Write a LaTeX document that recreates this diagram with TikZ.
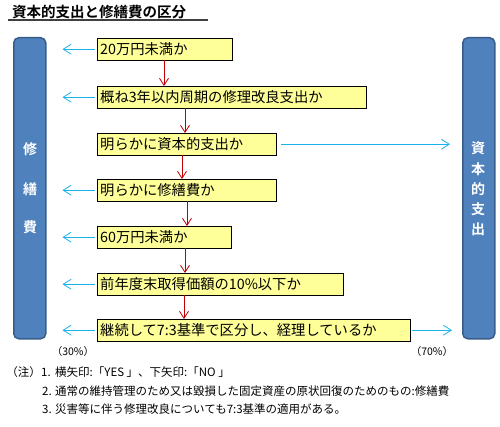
\documentclass[tikz,border=0pt]{standalone}
\usepackage{fontspec}
\setmainfont{Noto Sans CJK JP}[BoldFont={Noto Sans CJK JP Bold}]
\usetikzlibrary{arrows.meta,shadows,calc}
\definecolor{barblue}{HTML}{4F81BD}
\definecolor{baredge}{HTML}{385D8A}
\definecolor{boxyellow}{HTML}{FFFF99}
\definecolor{yesblue}{HTML}{1AB2EC}
\definecolor{nored}{HTML}{C00000}

\begin{document}
\begin{tikzpicture}[x=1pt,y=-1pt,
  qbox/.style={draw=black, fill=boxyellow, anchor=north west, minimum height=22pt,
    inner xsep=3pt, inner ysep=0pt, align=left, font=\fontsize{14.3}{16}\selectfont,
    drop shadow={shadow xshift=1.2pt, shadow yshift=-1.2pt, fill=black!55, opacity=1}},
  sidebar/.style={draw=baredge, line width=1.5pt, fill=barblue, rounded corners=5pt,
    anchor=north west, minimum width=32pt, minimum height=301pt},
  bartext/.style={text=white, font=\bfseries\fontsize{14}{16}\selectfont},
  noarrow/.style={draw=nored, line width=0.8pt, -{Straight Barb[length=7pt,width=9pt]}},
  yesarrow/.style={draw=yesblue, line width=0.8pt, -{Straight Barb[length=8pt,width=10pt]}},
  note/.style={anchor=west, inner sep=0pt, font=\fontsize{11.5}{13}\selectfont}]
\useasboundingbox (0,0) rectangle (500,427);

% Title
\node[anchor=west, inner sep=0pt, font=\bfseries\fontsize{14.5}{16}\selectfont] (title) at (12,12) {資本的支出と修繕費の区分};
\draw[line width=1.2pt, black!75] (8,20) -- (208,20);

% Side bars
\node[sidebar] (lbar) at (13,37) {};
\node[sidebar] (rbar) at (462,37) {};
\foreach \ch/\y in {修/149, 繕/189, 費/227}
    \node[bartext] (l\y) at (30,\y) {\ch};
\foreach \ch/\y in {資/148, 本/169, 的/189, 支/209, 出/229}
    \node[bartext] (r\y) at (478,\y) {\ch};

% Question boxes
\foreach \n/\y/\w/\txt in {1/38/129/{20万円未満か}, 2/86/263/{概ね3年以内周期の修理改良支出か},
    3/133/173/{明らかに資本的支出か}, 4/179/173/{明らかに修繕費か}, 5/226/128/{60万円未満か},
    6/273/240/{前年度末取得価額の10\%以下か}, 7/319/307/{継続して7:3基準で区分し、経理しているか}}
    \node[qbox, text width=\w pt] (b\n) at (97,\y) {\txt};

% NO arrows
\foreach \a/\b/\dx in {1/2/67, 2/3/88, 3/4/85, 4/5/90, 5/6/88, 6/7/87}
    \draw[noarrow] ($(b\a.south west)+(\dx,0)$) -- ($(b\b.north west)+(\dx,0)$);

% YES arrows
\foreach \n in {1,2,4,5,6,7}
    \draw[yesarrow, shorten <=2pt, shorten >=16pt] (b\n.west) -- (lbar.east |- b\n.west);
\draw[yesarrow, shorten <=5pt, shorten >=12pt] (b3.east) -- (rbar.west |- b3.east);
\draw[yesarrow, shorten <=2pt, shorten >=10pt] (b7.east) -- (rbar.west |- b7.east);

\node[note, anchor=center, font=\fontsize{10.5}{12}\selectfont] (pct30) at (73,352) {（30\%）};
\node[note, anchor=center, font=\fontsize{10.5}{12}\selectfont] (pct70) at (432,352) {（70\%）};

% Notes
\node[note, anchor=east] (chu) at (41,372) {（注）};
\node[note] (m1) at (41,372) {1.};
\node[note] (t1) at (55,372) {横矢印:「YES 」、下矢印:「NO 」};
\node[note] (m2) at (42,391) {2.};
\node[note] (t2) at (55,391) {通常の維持管理のため又は毀損した固定資産の原状回復のためのもの:修繕費};
\node[note] (m3) at (42,409) {3.};
\node[note] (t3) at (55,409) {災害等に伴う修理改良についても7:3基準の適用がある。};
\end{tikzpicture}
\end{document}
